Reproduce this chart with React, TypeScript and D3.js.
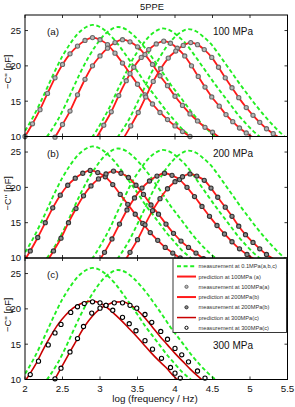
import React from 'react';
import * as d3 from 'd3';

type P = [number, number];

// measurement at 0.1 MPa (shared by a, b, c)
const green1: P[] = [[1.9,9.3],[2.0,10.8],[2.1,12.6],[2.2,14.7],[2.3,17.0],[2.4,19.3],[2.5,21.4],[2.6,23.1],[2.7,24.5],[2.8,25.4],[2.9,25.8],[3.0,25.5],[3.1,24.7],[3.2,23.6],[3.3,22.2],[3.4,20.7],[3.5,19.2],[3.6,17.6],[3.7,16.2],[3.8,14.8],[3.9,13.4],[4.0,12.2],[4.1,11.0],[4.2,10.1],[4.3,9.2]];
const green2: P[] = [[2.24,9.2],[2.34,10.7],[2.44,12.4],[2.54,14.5],[2.64,16.8],[2.74,19.1],[2.84,21.1],[2.94,22.8],[3.04,24.2],[3.14,25.1],[3.24,25.5],[3.34,25.2],[3.44,24.4],[3.54,23.3],[3.64,22.0],[3.74,20.5],[3.84,19.0],[3.94,17.4],[4.04,16.0],[4.14,14.6],[4.24,13.2],[4.34,12.0],[4.44,10.9],[4.54,10.0],[4.64,9.1]];
const green3: P[] = [[2.84,9.1],[2.94,10.6],[3.04,12.4],[3.14,14.4],[3.24,16.7],[3.34,18.9],[3.44,21.0],[3.54,22.6],[3.64,24.0],[3.74,24.9],[3.84,25.3],[3.94,25.0],[4.04,24.2],[4.14,23.2],[4.24,21.8],[4.34,20.3],[4.44,18.8],[4.54,17.3],[4.64,15.9],[4.74,14.5],[4.84,13.1],[4.94,11.9],[5.04,10.8],[5.14,9.9],[5.24,9.1]];
const green4: P[] = [[3.18,9.1],[3.28,10.6],[3.38,12.3],[3.48,14.4],[3.58,16.6],[3.68,18.9],[3.78,20.9],[3.88,22.6],[3.98,23.9],[4.08,24.8],[4.18,25.2],[4.28,24.9],[4.38,24.1],[4.48,23.1],[4.58,21.7],[4.68,20.2],[4.78,18.7],[4.88,17.2],[4.98,15.8],[5.08,14.4],[5.18,13.1],[5.28,11.9],[5.38,10.8],[5.48,9.8],[5.58,9.0]];

// 100 MPa (a)
const pred100a1: P[] = [[1.9,8.4],[2.0,10.0],[2.1,11.8],[2.2,13.8],[2.3,16.1],[2.4,18.3],[2.5,20.2],[2.6,21.7],[2.7,22.8],[2.8,23.6],[2.9,24.0],[3.0,23.7],[3.1,23.0],[3.2,21.8],[3.3,20.4],[3.4,18.9],[3.5,17.4],[3.6,15.9],[3.7,14.6],[3.8,13.4],[3.9,12.4],[4.0,11.5],[4.1,10.7],[4.2,10.0],[4.3,9.4]];
const pred100a2: P[] = [[2.3,8.3],[2.4,9.9],[2.5,11.7],[2.6,13.6],[2.7,15.9],[2.8,18.1],[2.9,20.0],[3.0,21.4],[3.1,22.5],[3.2,23.3],[3.3,23.7],[3.4,23.4],[3.5,22.7],[3.6,21.6],[3.7,20.2],[3.8,18.6],[3.9,17.2],[4.0,15.7],[4.1,14.4],[4.2,13.2],[4.3,12.2],[4.4,11.3],[4.5,10.6],[4.6,9.8],[4.7,9.2]];
const pred100a3: P[] = [[2.85,8.2],[2.95,9.8],[3.05,11.6],[3.15,13.5],[3.25,15.8],[3.35,17.9],[3.45,19.8],[3.55,21.2],[3.65,22.3],[3.75,23.1],[3.85,23.5],[3.94,23.2],[4.03,22.5],[4.13,21.4],[4.22,20.0],[4.31,18.5],[4.40,17.0],[4.49,15.6],[4.59,14.3],[4.68,13.1],[4.77,12.1],[4.86,11.2],[4.95,10.5],[5.05,9.8],[5.14,9.2]];
const pred100a4: P[] = [[3.21,8.2],[3.31,9.7],[3.41,11.5],[3.51,13.4],[3.61,15.6],[3.71,17.8],[3.81,19.6],[3.91,21.1],[4.01,22.1],[4.11,22.9],[4.21,23.3],[4.30,23.0],[4.39,22.3],[4.49,21.2],[4.58,19.8],[4.67,18.3],[4.76,16.9],[4.85,15.5],[4.95,14.1],[5.04,13.0],[5.13,12.0],[5.22,11.1],[5.31,10.4],[5.41,9.7],[5.50,9.1]];

// 200 MPa (b)
const pred200b1: P[] = [[1.87,7.8],[1.97,9.3],[2.07,11.0],[2.17,12.9],[2.27,15.0],[2.37,17.1],[2.47,18.9],[2.57,20.3],[2.67,21.3],[2.77,22.0],[2.87,22.4],[2.97,22.1],[3.07,21.5],[3.17,20.4],[3.27,19.0],[3.37,17.6],[3.47,16.2],[3.57,14.9],[3.67,13.6],[3.77,12.5],[3.87,11.5],[3.97,10.7],[4.07,10.0],[4.17,9.3]];
const pred200b2: P[] = [[2.18,7.8],[2.28,9.3],[2.38,11.0],[2.48,12.8],[2.58,15.0],[2.68,17.0],[2.78,18.8],[2.88,20.2],[2.98,21.2],[3.08,21.9],[3.18,22.3],[3.28,22.0],[3.38,21.4],[3.48,20.3],[3.58,19.0],[3.68,17.5],[3.78,16.2],[3.88,14.8],[3.98,13.5],[4.08,12.4],[4.18,11.5],[4.28,10.7],[4.38,9.9],[4.48,9.3]];
const pred200b3: P[] = [[2.86,7.7],[2.96,9.2],[3.06,10.8],[3.16,12.7],[3.26,14.8],[3.36,16.8],[3.46,18.5],[3.56,19.9],[3.66,20.9],[3.76,21.6],[3.86,22.0],[3.96,21.7],[4.06,21.1],[4.16,20.0],[4.26,18.7],[4.36,17.3],[4.46,15.9],[4.56,14.6],[4.66,13.4],[4.76,12.3],[4.86,11.3],[4.96,10.5],[5.06,9.8],[5.16,9.1]];
const pred200b4: P[] = [[3.2,7.7],[3.3,9.1],[3.4,10.8],[3.5,12.6],[3.6,14.7],[3.7,16.7],[3.8,18.4],[3.9,19.8],[4.0,20.8],[4.1,21.5],[4.2,21.9],[4.29,21.6],[4.39,21.0],[4.48,19.9],[4.57,18.6],[4.67,17.2],[4.76,15.9],[4.85,14.5],[4.94,13.3],[5.04,12.2],[5.13,11.3],[5.22,10.5],[5.32,9.8],[5.41,9.1]];

// 300 MPa (c)
const pred300c1: P[] = [[1.84,7.4],[1.94,8.8],[2.04,10.4],[2.14,12.1],[2.24,14.2],[2.34,16.1],[2.44,17.8],[2.54,19.1],[2.64,20.1],[2.75,20.75],[2.88,21.1],[2.98,20.9],[3.08,20.3],[3.18,19.4],[3.28,18.4],[3.38,17.3],[3.48,16.2],[3.58,15.0],[3.68,13.8],[3.78,12.7],[3.88,11.7],[3.98,10.5],[4.08,9.6]];
const pred300c2: P[] = [[2.2,7.5],[2.3,8.6],[2.4,10.1],[2.5,12.0],[2.6,13.9],[2.7,15.8],[2.8,17.6],[2.9,19.0],[3.0,20.0],[3.1,20.6],[3.2,20.95],[3.3,21.0],[3.4,20.6],[3.5,19.8],[3.6,18.7],[3.7,17.4],[3.8,16.1],[3.9,14.9],[4.0,13.7],[4.1,12.6],[4.2,11.5],[4.3,10.5],[4.4,9.6]];
const meas300c1: P[] = [[2.07,10.7],[2.18,12.6],[2.31,14.9],[2.40,16.6],[2.48,17.8],[2.61,19.5],[2.70,20.3],[2.79,20.75],[2.90,21.0],[3.0,20.85],[3.08,20.5],[3.17,19.8],[3.30,18.8],[3.39,17.9],[3.48,16.9],[3.60,15.5],[3.70,14.3],[3.82,13.0],[3.94,11.7],[4.0,10.9],[4.07,10.2]];
const meas300c2: P[] = [[2.40,10.1],[2.48,11.6],[2.60,13.9],[2.70,15.8],[2.78,17.5],[2.89,19.4],[3.0,20.1],[3.08,20.5],[3.19,20.85],[3.30,20.85],[3.40,20.5],[3.49,20.1],[3.60,19.2],[3.69,18.1],[3.81,16.8],[3.90,15.7],[4.0,14.4],[4.09,13.5],[4.18,12.5],[4.30,11.2],[4.40,10.2]];

const xTicks = [2, 2.5, 3, 3.5, 4, 4.5, 5, 5.5];
const yTicks = [10, 15, 20, 25];
const legendLabels = [
  'measurement at 0.1MPa(a,b,c)',
  'prediction at 100MPa (a)',
  'measurement at 100MPa(a)',
  'prediction at 200MPa(b)',
  'measurement at 200MPa(b)',
  'prediction at 300MPa(c)',
  'measurement at 300MPa(c)',
];

const FONT = '"Liberation Sans", Arial, Helvetica, sans-serif';
const GREEN = '#22ee22';
const RED = '#ff1a1a';
const DARKRED = '#c80000';
const left = 25;
const right = 287.5;
const panelH = 121.5;

const x = d3.scaleLinear().domain([2, 5.5]).range([left, right]);

type MarkStyle = { stroke: string; fill: string };
const markA: MarkStyle = { stroke: '#6a6a6a', fill: '#b8b8b8' };
const markB: MarkStyle = { stroke: '#333333', fill: '#8c8c8c' };
const markC: MarkStyle = { stroke: '#000000', fill: '#ffffff' };

interface PanelProps {
  id: string;
  top: number;
  greens: P[][];
  preds: P[][];
  meas: P[][];
  predColor: string;
  predWidth: number;
  mark: MarkStyle;
  label: string;
  pressure: string;
  pressureY: number;
  showXLabels?: boolean;
}

function Panel({ id, top, greens, preds, meas, predColor, predWidth, mark, label, pressure, pressureY, showXLabels }: PanelProps) {
  const bottom = top + panelH;
  const y = d3.scaleLinear().domain([10, 27.2]).range([bottom, top]);
  const line = d3.line<P>().x(d => x(d[0])).y(d => y(d[1])).curve(d3.curveMonotoneX);
  return (
    <g>
      <defs>
        <clipPath id={id}>
          <rect x={left} y={top} width={right - left} height={panelH} />
        </clipPath>
      </defs>
      <g clipPath={`url(#${id})`}>
        {greens.map((g, i) => (
          <path key={'g' + i} d={line(g) || ''} fill="none" stroke={GREEN} strokeWidth={1.9} strokeDasharray="4 2.6" />
        ))}
        {preds.map((p, i) => (
          <path key={'p' + i} d={line(p) || ''} fill="none" stroke={predColor} strokeWidth={predWidth} />
        ))}
      </g>
      {meas.map((m, i) => (
        <g key={'m' + i}>
          {m.filter(d => d[1] >= 9.9 && d[0] >= 2 && d[0] <= 5.5).map((d, j) => (
            <circle key={j} cx={x(d[0])} cy={y(d[1])} r={2.1} fill={mark.fill} stroke={mark.stroke} strokeWidth={1.1} />
          ))}
        </g>
      ))}
      <rect x={left} y={top} width={right - left} height={panelH} fill="none" stroke="#000" strokeWidth={1} />
      {yTicks.map(t => (
        <g key={'y' + t}>
          <line x1={left} x2={left + 3} y1={y(t)} y2={y(t)} stroke="#000" strokeWidth={0.8} />
          <line x1={right} x2={right - 3} y1={y(t)} y2={y(t)} stroke="#000" strokeWidth={0.8} />
          <text x={21} y={y(t) + 3.4} textAnchor="end" fontSize={9.5} fontFamily={FONT} fill="#111">{t}</text>
        </g>
      ))}
      {xTicks.map(t => (
        <g key={'x' + t}>
          <line x1={x(t)} x2={x(t)} y1={bottom} y2={bottom - 3} stroke="#000" strokeWidth={0.8} />
          <line x1={x(t)} x2={x(t)} y1={top} y2={top + 3} stroke="#000" strokeWidth={0.8} />
          {showXLabels && (
            <text x={x(t)} y={bottom + 12.5} textAnchor="middle" fontSize={9.8} fontFamily={FONT} fill="#111">{t}</text>
          )}
        </g>
      ))}
      <text transform={`translate(10.5,${top + panelH / 2 - 4}) rotate(-90)`} textAnchor="middle" fontSize={9.3} fontFamily={FONT} fill="#111">
        {'\u2212C\'\' [pF]'}
      </text>
      <text x={47} y={top + 20} fontSize={9.8} fontFamily={FONT} fill="#111">{label}</text>
      <text x={213} y={pressureY} fontSize={10} fontFamily={FONT} fill="#111">{pressure}</text>
    </g>
  );
}

function Legend() {
  const x0 = 173;
  const y0 = 258.5;
  const rowY = (i: number) => y0 + 7.8 + i * 10.25;
  const styles = [
    { kind: 'dash', color: GREEN },
    { kind: 'line', color: RED },
    { kind: 'mark', mark: markA },
    { kind: 'line', color: RED },
    { kind: 'mark', mark: markB },
    { kind: 'line', color: DARKRED },
    { kind: 'mark', mark: markC },
  ];
  return (
    <g>
      <rect x={x0} y={y0} width={right - x0 - 1} height={74} fill="#fff" stroke="#222" strokeWidth={0.9} />
      {legendLabels.map((t, i) => {
        const s: any = styles[i];
        const yy = rowY(i);
        return (
          <g key={t}>
            {s.kind === 'dash' && <line x1={177} x2={196} y1={yy} y2={yy} stroke={s.color} strokeWidth={1.9} strokeDasharray="4 2.6" />}
            {s.kind === 'line' && <line x1={177} x2={196} y1={yy} y2={yy} stroke={s.color} strokeWidth={i === 5 ? 1.5 : 2} />}
            {s.kind === 'mark' && <circle cx={186.5} cy={yy} r={1.6} fill={s.mark.fill} stroke={s.mark.stroke} strokeWidth={1} />}
            <text x={198.5} y={yy + 2} fontSize={5.7} fontFamily={FONT} fill="#333">{t}</text>
          </g>
        );
      })}
    </g>
  );
}

export default function App() {
  return (
    <div style={{ position: 'absolute', left: 0, top: 0, width: 295, height: 407, background: '#fff' }}>
      <svg width={295} height={407} viewBox="0 0 295 407" style={{ display: 'block' }}>
        <rect x={0} y={0} width={295} height={407} fill="#fff" />
        <text x={152} y={9.5} textAnchor="middle" fontSize={9.3} fontFamily={FONT} fill="#111">5PPE</text>
        <Panel
          id="clipA" top={15} greens={[green1, green2, green3, green4]}
          preds={[pred100a1, pred100a2, pred100a3, pred100a4]}
          meas={[pred100a1, pred100a2, pred100a3, pred100a4]}
          predColor={RED} predWidth={1.8} mark={markA} label="(a)" pressure="100 MPa" pressureY={34.5}
        />
        <Panel
          id="clipB" top={136.5} greens={[green1, green2, green3, green4]}
          preds={[pred200b1, pred200b2, pred200b3, pred200b4]}
          meas={[pred200b1, pred200b2, pred200b3, pred200b4]}
          predColor={RED} predWidth={1.8} mark={markB} label="(b)" pressure="200 MPa" pressureY={157}
        />
        <Panel
          id="clipC" top={258} greens={[green1, green2]}
          preds={[pred300c1, pred300c2]}
          meas={[meas300c1, meas300c2]}
          predColor={DARKRED} predWidth={1.6} mark={markC} label="(c)" pressure="300 MPa" pressureY={349}
          showXLabels
        />
        <Legend />
        <text x={155} y={402} textAnchor="middle" fontSize={9.8} fontFamily={FONT} fill="#111">log (frequency / Hz)</text>
      </svg>
    </div>
  );
}
